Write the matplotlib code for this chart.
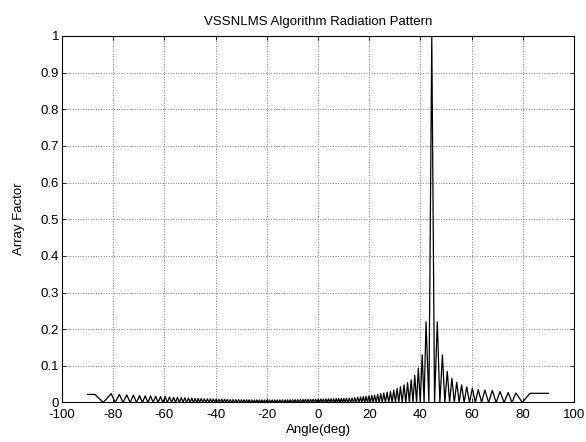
import numpy as np
import matplotlib
matplotlib.use("Agg")
import matplotlib.pyplot as plt

plt.rcParams['font.family'] = ['Liberation Sans', 'DejaVu Sans']
plt.rcParams['axes.unicode_minus'] = False

# sidelobe peaks (deg, array factor)
left_peak_deg = [
    -80.8, -77.6, -74.7, -72.1, -69.7, -67.5, -65.4, -63.4, -61.5, -59.7,
    -58.0, -56.4, -54.9, -53.4, -52.0, -50.6, -49.3, -48.0, -46.8, -45.6,
    -44.4, -43.2, -42.0, -40.9, -39.8, -38.7, -37.6, -36.5, -35.4, -34.3,
    -33.2, -32.1, -31.0, -29.9, -28.9, -27.9, -26.9, -25.9, -24.9, -23.9,
    -22.9, -21.9, -20.9, -19.9, -18.9, -17.9, -16.9, -15.9, -14.9, -13.9,
    -12.9, -11.9, -10.9, -9.9, -8.9, -7.9, -6.9, -5.9, -4.9, -3.9,
    -2.9, -1.9, -0.9, 0.1, 1.1, 2.1, 3.1, 4.1, 5.1, 6.1,
    7.1, 8.1, 9.1, 10.1, 11.1, 12.2, 13.3, 14.4, 15.5, 16.6,
    17.7, 18.8, 19.9, 21.0, 22.1, 23.3, 24.5, 25.7, 27.0, 28.3,
    29.6, 30.9, 32.2, 33.6, 35.0, 36.4, 37.8, 39.2, 40.7, 42.2,
]
left_peak_val = [
    0.024, 0.022, 0.021, 0.020, 0.019, 0.018, 0.018, 0.017, 0.016, 0.016,
    0.015, 0.014, 0.014, 0.013, 0.013, 0.012, 0.012, 0.011, 0.011, 0.011,
    0.010, 0.010, 0.010, 0.0095, 0.009, 0.009, 0.0088, 0.0085, 0.0083, 0.008,
    0.008, 0.0078, 0.0077, 0.0075, 0.0074, 0.0073, 0.0072, 0.0071, 0.007, 0.007,
    0.007, 0.0069, 0.0068, 0.0068, 0.0068, 0.0068, 0.0069, 0.007, 0.007, 0.0071,
    0.0072, 0.0073, 0.0074, 0.0075, 0.0076, 0.0078, 0.008, 0.0082, 0.0084, 0.0086,
    0.0088, 0.009, 0.009, 0.0092, 0.0094, 0.0096, 0.0098, 0.010, 0.010, 0.0102,
    0.0104, 0.0106, 0.0108, 0.011, 0.0113, 0.0117, 0.012, 0.013, 0.014, 0.015,
    0.016, 0.017, 0.018, 0.019, 0.020, 0.022, 0.024, 0.026, 0.028, 0.030,
    0.034, 0.038, 0.043, 0.048, 0.054, 0.062, 0.074, 0.094, 0.13, 0.22,
]
main_deg = 44.45
main_val = 1.0
right_peak_deg = [46.6, 48.6, 50.5, 52.3, 54.2, 56.1, 58.1, 60.3, 62.6, 65.2,
                  68.1, 71.1, 74.3, 77.3]
right_peak_val = [0.22, 0.13, 0.085, 0.066, 0.055, 0.048, 0.043, 0.039, 0.035, 0.034,
                  0.033, 0.030, 0.027, 0.026]

# flat bits at both ends of the scan
left_end_deg = [-90.0, -87.1, -83.9]
left_end_val = [0.022, 0.022, 0.0]
right_end_deg = [79.8, 82.8, 90.0]
right_end_val = [0.0, 0.025, 0.025]

peaks_deg = left_peak_deg + [main_deg] + right_peak_deg
peaks_val = left_peak_val + [main_val] + right_peak_val

# polyline: peak, null halfway to the next peak, peak ...
ang = list(left_end_deg)
af = list(left_end_val)
for i in range(len(peaks_deg)):
    if i > 0:
        ang.append((peaks_deg[i - 1] + peaks_deg[i]) / 2)
        af.append(0.0)
    ang.append(peaks_deg[i])
    af.append(peaks_val[i])
ang += right_end_deg
af += right_end_val

fig = plt.figure(figsize=(5.86, 4.42), dpi=100)
ax = fig.add_axes([0.1058, 0.0894, 0.8737, 0.8292])
ax.plot(ang, af, color='black', lw=0.9)

ax.set_xlim(-100, 100)
ax.set_ylim(0, 1)
ax.set_xticks(np.arange(-100, 101, 20))
ax.set_yticks(np.arange(0, 1.01, 0.1))
ax.set_yticklabels(['0', '0.1', '0.2', '0.3', '0.4', '0.5', '0.6', '0.7', '0.8', '0.9', '1'])
ax.tick_params(direction='in', top=True, right=True, length=3, width=0.6,
               labelsize=9.5, pad=2)
ax.tick_params(axis='x', pad=5)
ax.grid(True, linestyle=':', color='#7f7f7f', lw=0.7)
for s in ax.spines.values():
    s.set_linewidth(0.8)

ax.set_title('VSSNLMS Algorithm Radiation Pattern', fontsize=9.5, pad=8)
ax.set_xlabel('Angle(deg)', fontsize=9.5, labelpad=2)
ax.set_ylabel('Array Factor', fontsize=9.5, labelpad=11)

fig.savefig('out.png', dpi=100)
